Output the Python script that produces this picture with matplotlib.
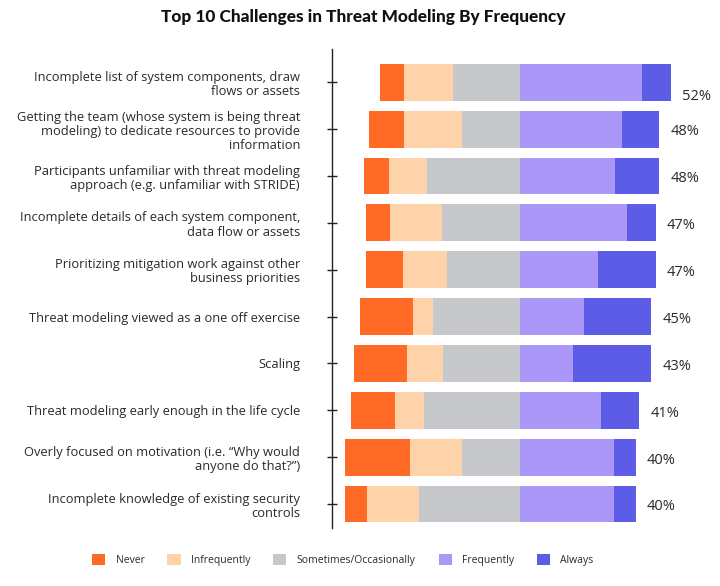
import matplotlib
matplotlib.use('Agg')
import matplotlib.pyplot as plt
from matplotlib.patches import Patch
import numpy as np

challenges = [
    'Incomplete list of system components, draw\nflows or assets',
    'Getting the team (whose system is being threat\nmodeling) to dedicate resources to provide\ninformation',
    'Participants unfamiliar with threat modeling\napproach (e.g. unfamiliar with STRIDE)',
    'Incomplete details of each system component,\ndata flow or assets',
    'Prioritizing mitigation work against other\nbusiness priorities',
    'Threat modeling viewed as a one off exercise',
    'Scaling',
    'Threat modeling early enough in the life cycle',
    'Overly focused on motivation (i.e. \u201cWhy would\nanyone do that?\u201d)',
    'Incomplete knowledge of existing security\ncontrols',
]
never = [8.3, 12.2, 8.4, 8.4, 12.6, 18.2, 18.2, 15.2, 22.3, 7.5]
infrequently = [16.9, 20.2, 13.1, 17.8, 15.0, 7.1, 12.4, 9.8, 18.1, 18.1]
sometimes = [23.1, 19.8, 32.1, 27.0, 25.3, 29.9, 26.6, 33.2, 19.9, 34.7]
frequently = [42.1, 35.2, 32.8, 36.9, 26.9, 22.1, 18.3, 28.0, 32.3, 32.3]
always = [9.9, 12.8, 15.2, 9.9, 19.9, 23.1, 26.9, 13.1, 7.6, 7.6]
pct_labels = ['52%', '48%', '48%', '47%', '47%', '45%', '43%', '41%', '40%', '40%']

series = ['Never', 'Infrequently', 'Sometimes/Occasionally', 'Frequently', 'Always']
colors = ['#FF6A26', '#FFD3AA', '#C7C8CC', '#AB97F8', '#5C5CE7']

plt.rcParams['font.family'] = ['Open Sans', 'DejaVu Sans']
text_color = '#2a2a2a'

fig = plt.figure(figsize=(7.2, 5.86), dpi=100)
ax = fig.add_axes([331.7 / 720, 1 - 528 / 586, 1 - 331.7 / 720, (528 - 49) / 586])

y = np.arange(len(challenges))
n = np.array(never)
i = np.array(infrequently)
s = np.array(sometimes)
f = np.array(frequently)
a = np.array(always)
h = 0.785

# left side (negative), right side (positive), split at end of "sometimes"
ax.barh(y, n, left=-(n + i + s), height=h, color=colors[0])
ax.barh(y, i, left=-(i + s), height=h, color=colors[1])
ax.barh(y, s, left=-s, height=h, color=colors[2])
ax.barh(y, f, left=0, height=h, color=colors[3])
ax.barh(y, a, left=f, height=h, color=colors[4])

for k, lab in enumerate(pct_labels):
    dy = 0.3 if k == 0 else 0.06
    ax.text(f[k] + a[k] + 3.9, y[k] + dy, lab, va='center', ha='left',
            fontsize=10.5, color=text_color)

ax.set_xlim(-64.9, 69.0)
ax.set_ylim(9.51, -0.71)
ax.set_yticks(y)
ax.set_yticklabels(challenges, fontsize=9.3, color=text_color, linespacing=1.12)
ax.set_xticks([])
for side in ['top', 'right', 'bottom']:
    ax.spines[side].set_visible(False)
ax.spines['left'].set_color('#222222')
ax.spines['left'].set_linewidth(1.0)
ax.tick_params(axis='y', direction='inout', length=7.2, width=1.0, color='#222222', pad=19.2)

fig.text(363.5 / 720, 1 - 17 / 586, 'Top 10 Challenges in Threat Modeling By Frequency',
         ha='center', va='center', fontsize=12.4, fontweight='black',
         family=['Lato', 'DejaVu Sans'], color='#111111')

handles = [Patch(facecolor=c, edgecolor='none', label=lab) for c, lab in zip(colors, series)]
fig.legend(handles=handles, loc='center', bbox_to_anchor=(343 / 720, 1 - 560 / 586), ncol=5,
           frameon=False, fontsize=7.5, handlelength=1.25, handleheight=1.25,
           handletextpad=1.0, columnspacing=2.2, labelcolor=text_color)

fig.savefig('out.png', dpi=100)
